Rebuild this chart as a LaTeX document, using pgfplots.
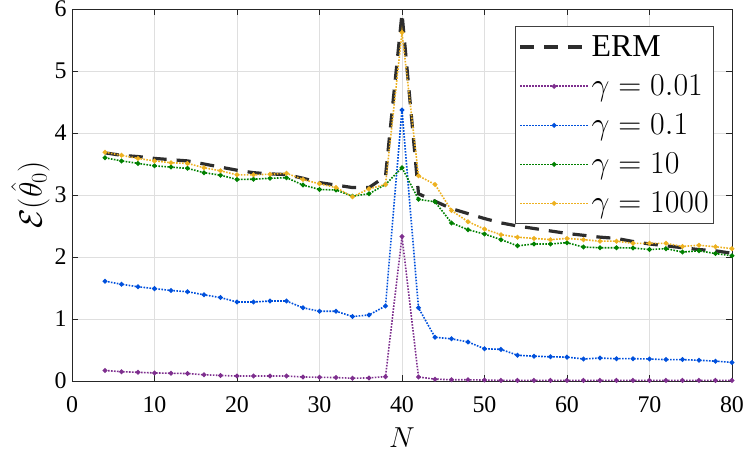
\RequirePackage{fix-cm}
\documentclass[border=0pt]{standalone}
\usepackage{pgfplots}
\pgfplotsset{compat=1.18}
\usepackage{fontspec}
\setmainfont{Liberation Serif}
\definecolor{cpur}{RGB}{126,47,142}
\definecolor{cblu}{RGB}{0,80,220}
\definecolor{cgrn}{RGB}{0,128,0}
\definecolor{cyel}{RGB}{237,177,32}
\definecolor{cerm}{RGB}{45,45,45}
\begin{document}
\begin{tikzpicture}
\useasboundingbox (-72bp,-73bp) rectangle (675bp,381bp);
\begin{axis}[
  scale only axis, width=660bp, height=372bp,
  xmin=0, xmax=80, ymin=0, ymax=6,
  xtick={0,10,...,80}, ytick={0,1,...,6},
  tick align=inside, major tick length=6bp,
  xtick pos=both, ytick pos=both,
  grid=major, major grid style={gray!25, line width=0.8bp},
  axis line style={black!85, line width=0.8bp},
  tick style={black!85, line width=0.8bp},
  /pgf/number format/assume math mode=true,
  ticklabel style={font=\fontsize{24}{28}\selectfont},
  xticklabel style={yshift=-12bp},
  yticklabel style={xshift=-2bp},
  xlabel={$N$}, ylabel={$\mathcal{E}(\hat{\theta}_0)$},
  xlabel style={font=\fontsize{29}{34}\selectfont, yshift=-8bp},
  ylabel style={font=\fontsize{32}{36}\selectfont, yshift=-2bp},
  legend cell align=left,
  legend style={at={(0.973,0.953)}, anchor=north east, draw=black!75, line width=0.8bp,
    font=\fontsize{32}{38}\selectfont, inner xsep=3bp, inner ysep=6bp, row sep=11bp,
    nodes={inner xsep=2bp, inner ysep=3bp}},
  legend image code/.code={\draw[mark repeat=2,mark phase=2,#1] plot coordinates {(0bp,0bp) (34bp,0bp) (68bp,0bp)};},
  every axis plot/.append style={line width=1.6bp, dash pattern=on 1.6bp off 1.4bp, mark=*, mark size=1.5bp, mark options={solid}},
]
\addplot[cerm, line width=3.2bp, dash pattern=on 14bp off 10bp, no marks] coordinates {
(4,3.68)(6,3.64)(8,3.62)(10,3.59)(12,3.57)(14,3.55)(16,3.50)(18,3.45)(20,3.40)(22,3.36)(24,3.34)(26,3.33)(28,3.27)(30,3.20)(32,3.16)(34,3.12)(36,3.12)(38,3.30)(40,5.93)(42,3.02)(44,2.90)(46,2.78)(48,2.70)(50,2.62)(52,2.55)(54,2.50)(56,2.46)(58,2.42)(60,2.38)(62,2.35)(64,2.32)(66,2.30)(68,2.25)(70,2.21)(72,2.18)(74,2.15)(76,2.12)(78,2.10)(80,2.06)};
\addlegendentry{$\mathrm{ERM}$}
\addplot[cpur] coordinates {
(4,0.17)(6,0.15)(8,0.14)(10,0.13)(12,0.125)(14,0.12)(16,0.10)(18,0.09)(20,0.08)(22,0.08)(24,0.08)(26,0.08)(28,0.065)(30,0.06)(32,0.055)(34,0.045)(36,0.05)(38,0.07)(40,2.33)(42,0.065)(44,0.03)(46,0.02)(48,0.02)(50,0.015)(52,0.01)(54,0.01)(56,0.01)(58,0.01)(60,0.01)(62,0.01)(64,0.01)(66,0.01)(68,0.01)(70,0.01)(72,0.01)(74,0.01)(76,0.01)(78,0.01)(80,0.01)};
\addlegendentry{$\gamma=0.01$}
\addplot[cblu] coordinates {
(4,1.61)(6,1.56)(8,1.52)(10,1.49)(12,1.46)(14,1.44)(16,1.39)(18,1.345)(20,1.275)(22,1.275)(24,1.29)(26,1.29)(28,1.18)(30,1.125)(32,1.125)(34,1.04)(36,1.065)(38,1.21)(40,4.37)(42,1.18)(44,0.705)(46,0.68)(48,0.63)(50,0.52)(52,0.51)(54,0.415)(56,0.40)(58,0.39)(60,0.385)(62,0.355)(64,0.37)(66,0.36)(68,0.36)(70,0.355)(72,0.345)(74,0.345)(76,0.335)(78,0.32)(80,0.30)};
\addlegendentry{$\gamma=0.1$}
\addplot[cgrn] coordinates {
(4,3.60)(6,3.55)(8,3.51)(10,3.47)(12,3.45)(14,3.43)(16,3.36)(18,3.32)(20,3.25)(22,3.255)(24,3.27)(26,3.28)(28,3.16)(30,3.09)(32,3.08)(34,2.98)(36,3.02)(38,3.17)(40,3.44)(42,2.93)(44,2.89)(46,2.55)(48,2.44)(50,2.37)(52,2.28)(54,2.18)(56,2.21)(58,2.21)(60,2.23)(62,2.16)(64,2.15)(66,2.15)(68,2.145)(70,2.12)(72,2.135)(74,2.08)(76,2.10)(78,2.055)(80,2.02)};
\addlegendentry{$\gamma=10$}
\addplot[cyel] coordinates {
(4,3.69)(6,3.64)(8,3.59)(10,3.55)(12,3.52)(14,3.51)(16,3.44)(18,3.39)(20,3.325)(22,3.325)(24,3.335)(26,3.35)(28,3.25)(30,3.18)(32,3.12)(34,2.97)(36,3.10)(38,3.17)(40,5.62)(42,3.31)(44,3.17)(46,2.75)(48,2.57)(50,2.45)(52,2.36)(54,2.32)(56,2.30)(58,2.28)(60,2.30)(62,2.28)(64,2.255)(66,2.255)(68,2.22)(70,2.22)(72,2.22)(74,2.17)(76,2.19)(78,2.165)(80,2.135)};
\addlegendentry{$\gamma=1000$}
\end{axis}
\end{tikzpicture}
\end{document}
